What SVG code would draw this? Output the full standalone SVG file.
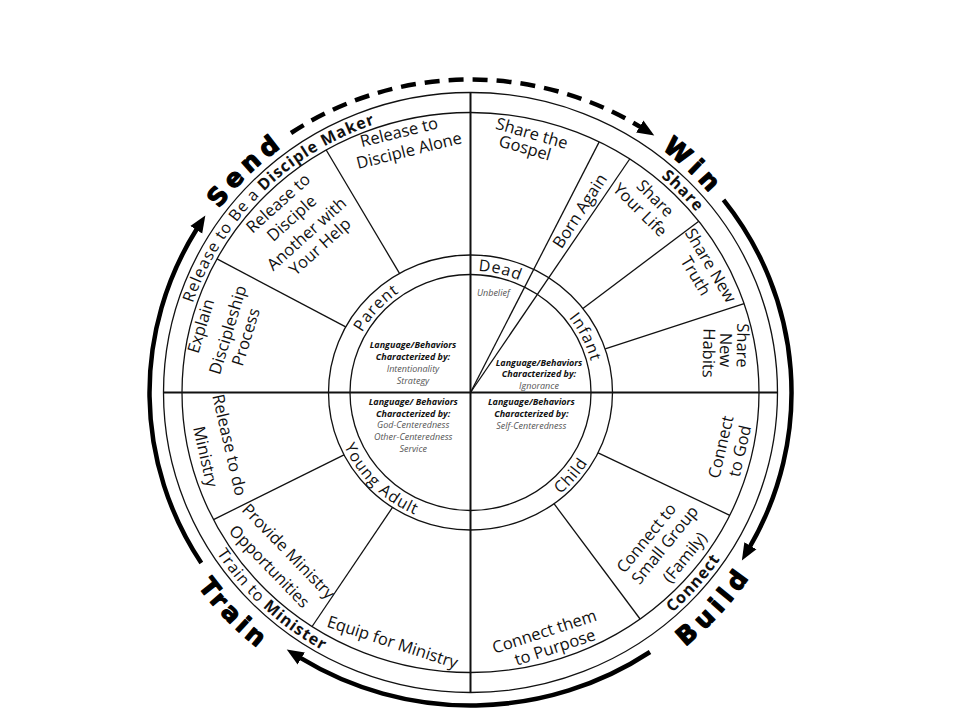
<svg xmlns="http://www.w3.org/2000/svg" width="960" height="720" viewBox="0 0 960 720">
<style>
.ln{fill:none;stroke:#111;stroke-width:1.3}
.ax{fill:none;stroke:#111;stroke-width:2}
.arc{fill:none;stroke:#000;stroke-width:4.5}
.t{font-family:"Open Sans","Noto Sans","DejaVu Sans",sans-serif;font-size:16.5px;fill:#111;text-anchor:middle}
.r{font-family:"Open Sans","Noto Sans","DejaVu Sans",sans-serif;font-size:16px;letter-spacing:1px;fill:#111;text-anchor:middle}
.b{font-weight:700}
.big{font-family:"DejaVu Sans",sans-serif;font-weight:700;font-size:25px;letter-spacing:5.5px;fill:#000;stroke:#000;stroke-width:1.15;stroke-linejoin:round;text-anchor:middle}
.s{font-family:"Open Sans","Noto Sans","DejaVu Sans",sans-serif;font-size:9px;font-style:italic;text-anchor:middle;fill:#555}
.sb{font-weight:700;fill:#111}
</style>
<defs>
<marker id="ah" markerUnits="userSpaceOnUse" markerWidth="18" markerHeight="16" viewBox="0 -8 18 16" refX="1" refY="0" orient="auto"><path d="M0,-7 L17,0 L0,7 z" fill="#000"/></marker>
<path id="ringTop" d="M 178 392.5 A 292.5 284 0 0 1 763 392.5"/>
<path id="ringBot" d="M 168 392.5 A 302.5 295.5 0 0 0 773 392.5"/>
<path id="inTop" d="M 346 392.5 A 124.5 122 0 0 1 595 392.5"/>
<path id="inBot" d="M 332.5 392.5 A 138 133.5 0 0 0 608.5 392.5"/>
<path id="bigTop" d="M 156.5 392.5 A 314 307 0 0 1 784.5 392.5"/>
<path id="bigBot" d="M 133.5 392.5 A 337 330 0 0 0 807.5 392.5"/>
</defs>
<rect width="960" height="720" fill="#fff"/>

<g id="wheel">
<ellipse class="ln" cx="470.5" cy="392.5" rx="307" ry="300" stroke-width="1.5"/>
<ellipse class="ln" cx="470.5" cy="392.5" rx="288.5" ry="280"/>
<ellipse class="ln" cx="470.5" cy="392.5" rx="142" ry="137.5"/>
<ellipse class="ln" cx="470.5" cy="392.5" rx="120.5" ry="118"/>
<line class="ax" x1="470.5" y1="92.5" x2="470.5" y2="692.5"/>
<line class="ax" x1="163.5" y1="392.5" x2="777.5" y2="392.5"/>
</g>

<g id="connectors">
<line class="ln" x1="399.5" y1="273.4" x2="326.2" y2="150"/>
<line class="ln" x1="345.7" y1="326.9" x2="217" y2="258.9"/>
<line class="ln" x1="582.9" y1="308.4" x2="698.8" y2="221.3"/>
<line class="ln" x1="605.2" y1="348.9" x2="744.1" y2="303.7"/>
<line class="ln" x1="598.1" y1="452.8" x2="729.8" y2="515.3"/>
<line class="ln" x1="554" y1="503.7" x2="640.1" y2="619"/>
<line class="ln" x1="392.5" y1="507.4" x2="312.1" y2="626.5"/>
<line class="ln" x1="344" y1="454.9" x2="213.5" y2="519.6"/>
<line class="ln" x1="470.5" y1="392.5" x2="599.2" y2="141.9"/>
<line class="ln" x1="470.5" y1="392.5" x2="629.7" y2="159"/>
<path class="arc" d="M 291 133 A 321 313 0 0 1 640.6 127.1" stroke-dasharray="15 9" marker-end="url(#ah)"/>
<path class="arc" d="M 723.5 199.8 A 321 313 0 0 1 749.9 546.6" marker-end="url(#ah)"/>
<path class="arc" d="M 650 652 A 321 313 0 0 1 300.4 657.9" marker-end="url(#ah)"/>
<path class="arc" d="M 201.3 563 A 321 313 0 0 1 196.8 229" marker-end="url(#ah)"/>
</g>

<g id="stage-labels">
<text class="big"><textPath href="#bigTop" startOffset="25%">Send</textPath></text>
<text class="big"><textPath href="#bigTop" startOffset="74.6%">Win</textPath></text>
<text class="big"><textPath href="#bigBot" startOffset="76.9%">Build</textPath></text>
<text class="big" style="letter-spacing:4px"><textPath href="#bigBot" startOffset="24.1%">Train</textPath></text>
</g>

<g id="ring-labels">
<text class="r"><textPath href="#ringTop" startOffset="24.7%">Release to Be a <tspan class="b">Disciple Maker</tspan></textPath></text>
<text class="r b"><textPath href="#ringTop" startOffset="75.6%">Share</textPath></text>
<text class="r b"><textPath href="#ringBot" startOffset="77.3%">Connect</textPath></text>
<text class="r"><textPath href="#ringBot" startOffset="25.9%">Train to <tspan class="b">Minister</tspan></textPath></text>
</g>

<g id="stage-dead">
<text class="r"><textPath href="#inTop" startOffset="57.6%">Dead</textPath></text>
<text class="s" x="493.3" y="295.5">Unbelief</text>
</g>
<g id="stage-infant">
<text class="r"><textPath href="#inTop" startOffset="85.6%">Infant</textPath></text>
<text class="s sb" x="539" y="365.5">Language/Behaviors</text>
<text class="s sb" x="539" y="377.4">Characterized by:</text>
<text class="s" x="539" y="389">Ignorance</text>
</g>
<g id="stage-child">
<text class="r"><textPath href="#inBot" startOffset="77.7%">Child</textPath></text>
<text class="s sb" x="531.3" y="405.2">Language/Behaviors</text>
<text class="s sb" x="531.3" y="417">Characterized by:</text>
<text class="s" x="531.3" y="428.7">Self-Centeredness</text>
</g>
<g id="stage-young-adult">
<text class="r"><textPath href="#inBot" startOffset="24.9%">Young Adult</textPath></text>
<text class="s sb" x="413.2" y="404.5">Language/ Behaviors</text>
<text class="s sb" x="413.2" y="417">Characterized by:</text>
<text class="s" x="413.2" y="427.7">God-Centeredness</text>
<text class="s" x="413.2" y="439.5">Other-Centeredness</text>
<text class="s" x="413.2" y="451.5">Service</text>
</g>
<g id="stage-parent">
<text class="r"><textPath href="#inTop" startOffset="23.4%">Parent</textPath></text>
<text class="s sb" x="413" y="348.4">Language/Behaviors</text>
<text class="s sb" x="413" y="360.4">Characterized by:</text>
<text class="s" x="413" y="371.9">Intentionality</text>
<text class="s" x="413" y="383.7">Strategy</text>
</g>

<g id="release-alone">
<text class="t" transform="translate(399,132.4) rotate(-14)" y="5.5">Release to</text>
<text class="t" transform="translate(409,150.7) rotate(-14)" y="5.5">Disciple Alone</text>
</g>
<g id="release-another">
<text class="t" transform="translate(278.3,203.3) rotate(-42)" y="5.5">Release to</text>
<text class="t" transform="translate(291.7,218.3) rotate(-42)" y="5.5">Disciple</text>
<text class="t" transform="translate(306.7,234) rotate(-42)" y="5.5">Another with</text>
<text class="t" transform="translate(320,246.7) rotate(-42)" y="5.5">Your Help</text>
</g>
<g id="explain">
<text class="t" transform="translate(201,326) rotate(-73)" y="5.5">Explain</text>
<text class="t" transform="translate(228,330) rotate(-73)" y="5.5">Discipleship</text>
<text class="t" transform="translate(246,337) rotate(-73)" y="5.5">Process</text>
</g>
<g id="share-gospel">
<text class="t" transform="translate(531.8,133.5) rotate(16)" y="5.5">Share the</text>
<text class="t" transform="translate(525,148) rotate(16)" y="5.5">Gospel</text>
</g>
<g id="born-again">
<text class="t" transform="translate(580,211) rotate(-57)" y="5.5">Born Again</text>
</g>
<g id="share-life">
<text class="t" transform="translate(655,198.5) rotate(45)" y="5.5">Share</text>
<text class="t" transform="translate(640,210) rotate(45)" y="5.5">Your Life</text>
</g>
<g id="share-truth">
<text class="t" transform="translate(710.5,265.5) rotate(59)" y="5.5">Share New</text>
<text class="t" transform="translate(695.5,276) rotate(59)" y="5.5">Truth</text>
</g>
<g id="share-habits">
<text class="t" transform="translate(742.4,345.5) rotate(91)" y="5.5">Share</text>
<text class="t" transform="translate(725.5,350) rotate(91)" y="5.5">New</text>
<text class="t" transform="translate(708.5,353) rotate(91)" y="5.5">Habits</text>
</g>
<g id="connect-god">
<text class="t" transform="translate(721,447) rotate(-77)" y="5.5">Connect</text>
<text class="t" transform="translate(740,451) rotate(-77)" y="5.5">to God</text>
</g>
<g id="connect-group">
<text class="t" transform="translate(646.5,538) rotate(-51)" y="5.5">Connect to</text>
<text class="t" transform="translate(665,545) rotate(-51)" y="5.5">Small Group</text>
<text class="t" transform="translate(685,557.5) rotate(-51)" y="5.5">(Family)</text>
</g>
<g id="connect-purpose">
<text class="t" transform="translate(544.4,631.7) rotate(-18)" y="5.5">Connect them</text>
<text class="t" transform="translate(555,647.5) rotate(-18)" y="5.5">to Purpose</text>
</g>
<g id="release-ministry">
<text class="t" transform="translate(229.2,445) rotate(77)" y="5.5">Release to do</text>
<text class="t" transform="translate(205.3,456.7) rotate(77)" y="5.5">Ministry</text>
</g>
<g id="provide-ministry">
<text class="t" transform="translate(288.3,551.5) rotate(46)" y="5.5">Provide Ministry</text>
<text class="t" transform="translate(269.2,566.5) rotate(46)" y="5.5">Opportunities</text>
</g>
<g id="equip">
<text class="t" transform="translate(392.5,642.3) rotate(18)" y="5.5">Equip for Ministry</text>
</g>
</svg>
